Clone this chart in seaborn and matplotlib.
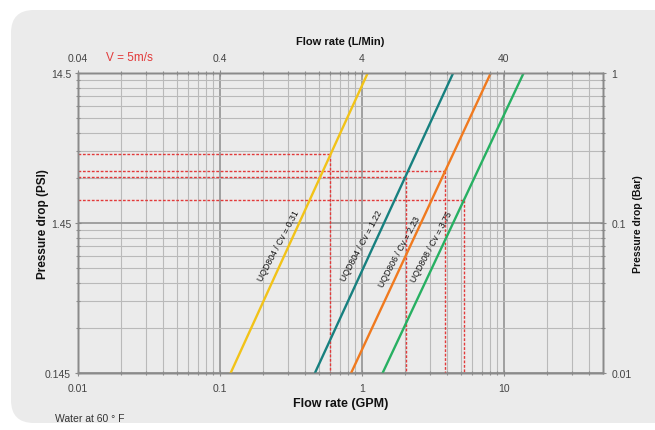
import numpy as np
import pandas as pd
import matplotlib
matplotlib.use("Agg")
import matplotlib.pyplot as plt
import seaborn as sns
from matplotlib.patches import FancyBboxPatch
from matplotlib.ticker import FixedLocator, NullFormatter, FixedFormatter

# ---- data ----
models = ["UQD804", "UQD804", "UQD806", "UQD808"]
cv_values = ["0.31", "1.22", "2.23", "3.75"]
line_colors = ["#f2c318", "#17807f", "#f07a1f", "#27b062"]
# line endpoints (GPM) at psi = 0.145 (bottom) and psi = 14.5 (top)
flow_bottom = [0.119, 0.467, 0.84, 1.40]
flow_top = [1.10, 4.40, 8.10, 13.8]
psi_ends = [0.145, 14.5]
# V = 5 m/s marker points (GPM, PSI)
marker_flow = [0.60, 2.03, 3.86, 5.23]
marker_psi = [4.18, 2.95, 3.22, 2.06]
# label anchor points (GPM, PSI)
label_flow = [0.257, 0.987, 1.83, 3.12]
label_psi = [1.03, 1.04, 0.944, 1.02]
# axis tick labels
gpm_ticks = [0.01, 0.1, 1, 10]
gpm_labels = ["0.01", "0.1", "1", "10"]
lpm_labels = ["0.04", "0.4", "4", "40"]
psi_ticks = [0.145, 1.45, 14.5]
psi_labels = ["0.145", "1.45", "14.5"]
bar_ticks = [0.01, 0.1, 1]
bar_labels = ["0.01", "0.1", "1"]

sns.set_style("white")
plt.rcParams['font.family'] = ['Liberation Sans', 'DejaVu Sans']

BG = "#ebebeb"
fig = plt.figure(figsize=(6.55, 4.31), dpi=100)
fig.patch.set_facecolor("white")
panel = FancyBboxPatch((11 / 655, 7 / 431), 700 / 655, 413 / 431,
                       boxstyle="round,pad=0,rounding_size=0.035",
                       transform=fig.transFigure, facecolor=BG, edgecolor="none",
                       zorder=-10, mutation_aspect=655 / 431)
fig.patches.append(panel)

ax = fig.add_axes([78 / 655, 1 - 374 / 431, (603 - 78) / 655, 300 / 431])
ax.set_facecolor(BG)
ax.set_xscale("log")
ax.set_yscale("log")
XMIN, XMAX = 0.01, 50
YMIN, YMAX = 0.145, 14.5
ax.set_xlim(XMIN, XMAX)
ax.set_ylim(YMIN, YMAX)

# grid
xminor = [k * 10.0 ** e for e in range(-2, 2) for k in range(2, 10) if k * 10.0 ** e < XMAX]
yminor = [k * 0.145 * 10.0 ** e for e in range(0, 2) for k in range(2, 10)]
for v in xminor:
    ax.axvline(v, color="#b9b9b9", lw=0.8, zorder=0)
for v in gpm_ticks:
    ax.axvline(v, color="#9a9a9a", lw=1.3, zorder=0)
for v in yminor:
    ax.axhline(v, color="#b9b9b9", lw=0.8, zorder=0)
for v in psi_ticks:
    ax.axhline(v, color="#9a9a9a", lw=1.3, zorder=0)

# red dashed V = 5 m/s guides
red = "#e23a3a"
for q, p in zip(marker_flow, marker_psi):
    ax.plot([XMIN, q], [p, p], color=red, lw=1.0, ls=(0, (2, 1.2)), zorder=2)
    ax.plot([q, q], [p, YMIN], color=red, lw=1.0, ls=(0, (2, 1.2)), zorder=2)

# flow lines
for i in range(len(models)):
    df = pd.DataFrame({"flow": [flow_bottom[i], flow_top[i]], "psi": psi_ends})
    sns.lineplot(data=df, x="flow", y="psi", ax=ax, color=line_colors[i], lw=1.7,
                 zorder=3, legend=False)

# line labels
for i in range(len(models)):
    ax.text(label_flow[i], label_psi[i], f"{models[i]} / Cv = {cv_values[i]}", rotation=62,
            rotation_mode="anchor", ha="center", va="center", fontsize=6.3,
            color="#111111", zorder=4)

# bottom/left axes ticks
ax.xaxis.set_major_locator(FixedLocator(gpm_ticks))
ax.xaxis.set_major_formatter(FixedFormatter(gpm_labels))
ax.xaxis.set_minor_locator(FixedLocator(xminor))
ax.xaxis.set_minor_formatter(NullFormatter())
ax.yaxis.set_major_locator(FixedLocator(psi_ticks))
ax.yaxis.set_major_formatter(FixedFormatter(psi_labels))
ax.yaxis.set_minor_locator(FixedLocator(yminor))
ax.yaxis.set_minor_formatter(NullFormatter())
ax.tick_params(which="both", direction="inout", length=4, width=0.8, color="#8a8a8a",
               labelsize=7.5, labelcolor="#444444", pad=3)
ax.tick_params(which="minor", length=3)
ax.tick_params(axis="x", pad=5)
ax.set_xlabel("Flow rate (GPM)", fontsize=9, fontweight="bold", labelpad=3, color="#111111")
ax.set_ylabel("Pressure drop (PSI)", fontsize=8.5, fontweight="bold", labelpad=-3, color="#111111")
for s in ax.spines.values():
    s.set_color("#8a8a8a")
    s.set_linewidth(1.0)

# top axis (L/min)
axt = ax.twiny()
axt.set_xscale("log")
axt.set_xlim(XMIN, XMAX)
axt.xaxis.set_major_locator(FixedLocator(gpm_ticks))
axt.xaxis.set_major_formatter(FixedFormatter(lpm_labels))
axt.xaxis.set_minor_locator(FixedLocator(xminor))
axt.xaxis.set_minor_formatter(NullFormatter())
axt.tick_params(which="both", direction="inout", length=4, width=0.8, color="#8a8a8a",
                labelsize=7.5, labelcolor="#444444", pad=5)
axt.tick_params(which="minor", length=3)
axt.set_xlabel("Flow rate (L/Min)", fontsize=8, fontweight="bold", labelpad=7, color="#111111")

# right axis (bar)
axr = ax.twinx()
axr.set_yscale("log")
axr.set_ylim(0.01, 1)
axr.yaxis.set_major_locator(FixedLocator(bar_ticks))
axr.yaxis.set_major_formatter(FixedFormatter(bar_labels))
axr.yaxis.set_minor_locator(FixedLocator([k * 10.0 ** e for e in (-2, -1) for k in range(2, 10)]))
axr.yaxis.set_minor_formatter(NullFormatter())
axr.tick_params(which="both", direction="inout", length=4, width=0.8, color="#8a8a8a",
                labelsize=7.5, labelcolor="#444444", pad=4)
axr.tick_params(which="minor", length=3)
axr.set_ylabel("Pressure drop (Bar)", fontsize=7.5, fontweight="bold", labelpad=1, color="#111111")
for a in (axt, axr):
    for s in a.spines.values():
        s.set_color("#8a8a8a")
        s.set_linewidth(1.0)

fig.text(106 / 655, 1 - 58 / 431, "V = 5m/s", color=red, fontsize=8.5, va="center", ha="left")
fig.text(55 / 655, 1 - 419 / 431, "Water at 60 \u00b0 F", color="#333333", fontsize=7.5,
         va="center", ha="left")

fig.savefig("out.png", dpi=100, facecolor=fig.get_facecolor())
